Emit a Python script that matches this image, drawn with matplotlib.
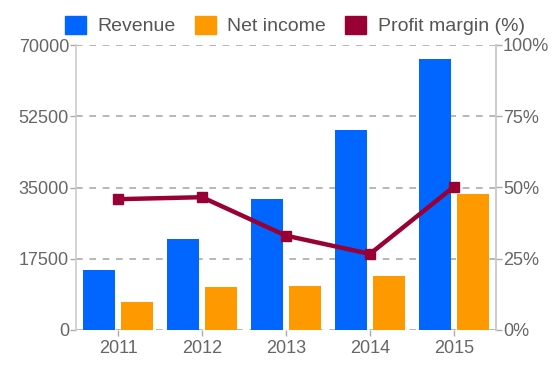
import matplotlib
matplotlib.use("Agg")
import matplotlib.pyplot as plt
from matplotlib.patches import Patch
import numpy as np

years = ["2011", "2012", "2013", "2014", "2015"]
revenue = [14700, 22400, 32100, 49100, 66600]
net_income = [6800, 10600, 10700, 13300, 33500]
profit_margin = [45.9, 46.6, 33.1, 26.7, 50.3]
left_ticks = [0, 17500, 35000, 52500, 70000]
right_ticks = [0, 25, 50, 75, 100]

plt.rcParams['font.family'] = ['Liberation Sans', 'DejaVu Sans']
BLUE = "#0066FF"
ORANGE = "#FF9900"
MAROON = "#990033"
TXT = "#666666"
GRID = "#AAAAAA"

fig = plt.figure(figsize=(5.53, 3.72), dpi=100)
ax = fig.add_axes([76/553, 1-330/372, 420/553, 285/372])
x = np.arange(len(years))
w = 0.37
ax.bar(x - 0.226, revenue, w, color=BLUE, zorder=2)
ax.bar(x + 0.226, net_income, w, color=ORANGE, zorder=2)
ax.set_xlim(-0.5, len(years) - 0.5)
ax.set_ylim(0, 70000)
ax.set_yticks(left_ticks)
ax.set_yticklabels([str(t) for t in left_ticks])
ax.set_xticks(x)
ax.set_xticklabels(years)
ax.yaxis.grid(True, linestyle=(0, (4, 4)), color=GRID, linewidth=1.2, zorder=0)
ax.set_axisbelow(True)
for s in ["top", "bottom"]:
    ax.spines[s].set_visible(False)
for s in ["left", "right"]:
    ax.spines[s].set_color("#CCCCCC")
    ax.spines[s].set_linewidth(1.2)
ax.tick_params(axis="both", colors=GRID, labelcolor=TXT, labelsize=13, length=4, width=1)
ax.tick_params(axis="y", pad=1)

ax2 = ax.twinx()
ax2.plot(x, profit_margin, color=MAROON, linewidth=3.2, marker="s", markersize=7, zorder=3)
ax2.set_ylim(0, 100)
ax2.set_yticks(right_ticks)
ax2.set_yticklabels([f"{t}%" for t in right_ticks])
for s in ["top", "bottom", "left"]:
    ax2.spines[s].set_visible(False)
ax2.spines["right"].set_color("#CCCCCC")
ax2.spines["right"].set_linewidth(1.2)
ax2.tick_params(axis="y", colors=GRID, labelcolor=TXT, labelsize=13, length=4, width=1, pad=1)

handles = [Patch(color=BLUE, label="Revenue"),
           Patch(color=ORANGE, label="Net income"),
           Patch(color=MAROON, label="Profit margin (%)")]
fig.legend(handles=handles, loc="upper center", bbox_to_anchor=(295/553, 1.005), ncol=3,
           frameon=False, fontsize=14, handlelength=1.05, handleheight=1.05,
           handletextpad=0.6, columnspacing=1.0, labelcolor="#555555")

fig.savefig("out.png", dpi=100)
